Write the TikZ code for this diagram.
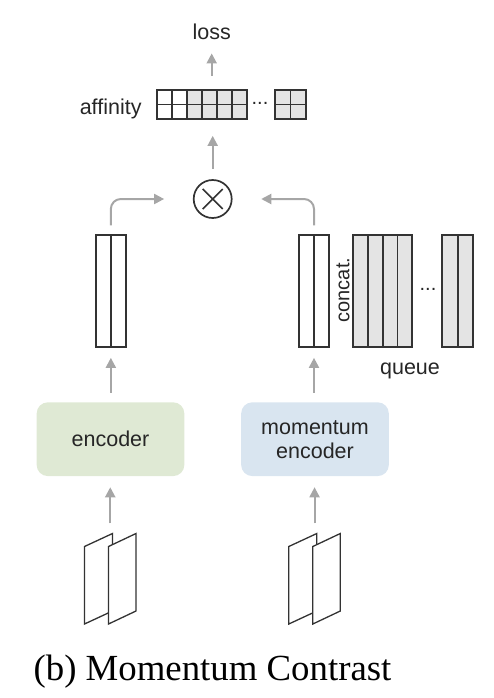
\documentclass[tikz,border=0pt]{standalone}
\usepackage{fontspec}
\setmainfont{Liberation Serif}
\setsansfont{Liberation Sans}
\usetikzlibrary{arrows.meta}
\definecolor{arr}{HTML}{A6A6A6}
\definecolor{ink}{HTML}{333333}
\definecolor{cellgray}{HTML}{E4E4E4}
\definecolor{encgreen}{HTML}{DFE9D4}
\definecolor{encblue}{HTML}{D9E5F0}
\definecolor{txt}{HTML}{262626}
\begin{document}
\begin{tikzpicture}[x=1pt,y=-1pt,
  lbl/.style={font=\sffamily\fontsize{21.5}{25}\selectfont, text=txt, inner sep=0pt},
  conn/.style={draw=arr, line width=2pt, -{Triangle[length=10pt,width=10pt]}},
  box/.style={draw=ink, line width=1.7pt, inner sep=0pt},
  sep/.style={draw=ink, line width=1.7pt},
  enc/.style={rounded corners=11pt, inner sep=0pt, align=center, minimum width=147.6pt, minimum height=73.7pt, font=\sffamily\fontsize{21.5}{24}\selectfont, text=txt},
  ghost/.style={inner sep=0pt}
]
\useasboundingbox (0,0) rectangle (493,698);

% ---- top: loss, affinity, product
\node[lbl, anchor=base] (loss) at (211.7,40) {loss};
\node[lbl, anchor=base east] (afflbl) at (141.7,114.5) {affinity};
% affinity grid
\fill[cellgray] (186.7,90) rectangle (247.3,119.3);
\fill[cellgray] (275,90) rectangle (306,119.3);
\node[box, minimum width=90.6pt, minimum height=29.3pt] (aff) at (202,104.65) {};
\foreach \xx in {171.7,186.7,201.7,216.7,231.7}
  \draw[sep] (\xx,90) -- (\xx,119.3);
\draw[sep] (156.7,104.65) -- (247.3,104.65);
\node[box, minimum width=31pt, minimum height=29.3pt] (affb) at (290.5,104.65) {};
\draw[sep] (affb.north) -- (affb.south);
\draw[sep] (affb.west) -- (affb.east);
\node[lbl, font=\sffamily\fontsize{20}{24}\selectfont, anchor=base] (dotsA) at (260,104.5) {...};

\node[circle, draw=ink, line width=1.7pt, minimum size=38pt, inner sep=0pt] (circ) at (212.7,199) {};
\draw[sep] ([shift={(-10,-10)}]circ.center) -- ([shift={(10,10)}]circ.center);
\draw[sep] ([shift={(-10,10)}]circ.center) -- ([shift={(10,-10)}]circ.center);

\draw[conn, shorten <=13pt, shorten >=13pt] (aff.north -| loss) -- (loss.south);
\draw[conn, shorten <=10pt, shorten >=15.7pt] (circ.north) -- (circ.north |- aff.south);

% ---- vectors
\node[box, minimum width=29.7pt, minimum height=112pt] (lv) at (110.85,291.3) {};
\draw[sep] (lv.north) -- (lv.south);
\node[box, minimum width=30.6pt, minimum height=112pt] (rv) at (314,291.3) {};
\draw[sep] (rv.north) -- (rv.south);

% queue
\fill[cellgray] (352.7,235.3) rectangle (412.3,347.3);
\node[box, minimum width=59.6pt, minimum height=112pt] (qa) at (382.5,291.3) {};
\foreach \xx in {367.8,382.7,397.5}
  \draw[sep] (\xx,235.3) -- (\xx,347.3);
\fill[cellgray] (442.3,235.3) rectangle (473.3,347.3);
\node[box, minimum width=31pt, minimum height=112pt] (qb) at (457.8,291.3) {};
\draw[sep] (qb.north) -- (qb.south);
\node[lbl, font=\sffamily\fontsize{20}{24}\selectfont, anchor=base] (dotsB) at (428,290) {...};
\node[lbl, anchor=base] (queue) at (410,374) {queue};
\node[lbl, font=\sffamily\fontsize{20}{22}\selectfont, anchor=base, rotate=90] (concat) at (349.3,290) {concat.};

\draw[conn, rounded corners=10pt, shorten <=9pt, shorten >=28.7pt] (lv.north) |- (circ.west);
\draw[conn, rounded corners=10pt, shorten <=9pt, shorten >=28.7pt] (rv.north) |- (circ.east);

% ---- encoders
\node[enc, fill=encgreen] (enc) at (110.5,439.2) {encoder};
\node[enc, fill=encblue] (menc) at (315,439.2) {momentum\\encoder};

\draw[conn, shorten <=9.3pt, shorten >=9.7pt] (enc.north -| lv) -- (lv.south);
\draw[conn, shorten <=9.3pt, shorten >=9.7pt] (menc.north -| rv) -- (rv.south);

% ---- input images
\foreach \dx/\nm in {0/img1,204.3/img2}{
  \begin{scope}[xshift=\dx pt]
    \draw[ink, line width=1.3pt, fill=white] (84.5,624) -- (84.5,546.5) -- (112.5,533.5) -- (112.5,611) -- cycle;
    \draw[ink, line width=1.3pt, fill=white] (108.5,624) -- (108.5,546.5) -- (136,533.5) -- (136,611) -- cycle;
    \node[ghost, minimum width=51.5pt, minimum height=90.5pt] (\nm) at (110.25,578.75) {};
  \end{scope}
}
\draw[conn, shorten <=10pt, shorten >=11pt] (img1.north) -- (img1.north |- enc.south);
\draw[conn, shorten <=10pt, shorten >=11pt] (img2.north) -- (img2.north |- menc.south);

% ---- caption
\node[inner sep=0pt, anchor=base, font=\fontsize{36.8}{40}\selectfont] (cap) at (212.5,680) {(b) Momentum Contrast};
\end{tikzpicture}
\end{document}
